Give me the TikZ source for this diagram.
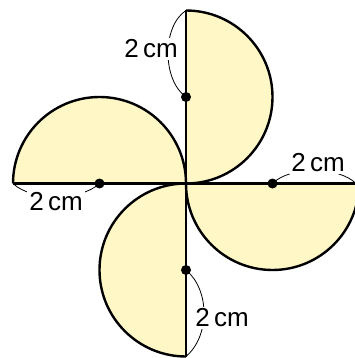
\documentclass[tikz,border=0pt]{standalone}
\usepackage{fontspec}
\setmainfont{Liberation Sans}
\definecolor{petal}{RGB}{255,248,198}
\tikzset{
  petalfill/.style={fill=petal},
  outline/.style={line width=2.4pt, line join=round},
  dimline/.style={line width=0.8pt},
  dot/.style={circle, fill=black, inner sep=0pt, minimum size=10pt},
  dimlabel/.style={fill=white, inner sep=2pt, font=\fontsize{26}{30}\selectfont}
}
\begin{document}
\begin{tikzpicture}[x=1pt,y=1pt]
\useasboundingbox (0,0) rectangle (355,-358);
\def\r{86.5}
\coordinate (C) at (186,-183.5);
\coordinate (T) at (186,-97);
\coordinate (L) at (99.5,-183.5);
\coordinate (R) at (272.5,-183.5);
\coordinate (B) at (186,-270);
\coordinate (Tend) at (186,-10.5);
\coordinate (Lend) at (13,-183.5);
\coordinate (Rend) at (359,-183.5);
\coordinate (Bend) at (186,-356.5);
% fills
\fill[petalfill] (Tend) arc[start angle=90,end angle=-90,radius=\r] -- cycle;
\fill[petalfill] (Lend) arc[start angle=180,end angle=0,radius=\r] -- cycle;
\fill[petalfill] (Rend) arc[start angle=0,end angle=-180,radius=\r] -- cycle;
\fill[petalfill] (Bend) arc[start angle=270,end angle=90,radius=\r] -- cycle;
% outlines
\draw[outline] (Tend) arc[start angle=90,end angle=-90,radius=\r];
\draw[outline] (Lend) arc[start angle=180,end angle=0,radius=\r];
\draw[outline] (Rend) arc[start angle=0,end angle=-180,radius=\r];
\draw[outline] (Bend) arc[start angle=270,end angle=90,radius=\r];
\draw[outline] (Tend) -- (Bend);
\draw[outline] (Lend) -- (Rend);
% dots
\node[dot] (dT) at (T) {};
\node[dot] (dL) at (L) {};
\node[dot] (dR) at (R) {};
\node[dot] (dB) at (B) {};
% dimension curves
\draw[dimline] (Tend) .. controls (162,-26) and (162,-80) .. (dT.center);
\draw[dimline] (Lend) .. controls (31,-201) and (81,-201) .. (dL.center);
\draw[dimline] (dR.center) .. controls (290,-166) and (338,-166) .. (356,-183.5);
\draw[dimline] (dB.center) .. controls (210,-290) and (210,-336) .. (Bend);
% labels
\node[dimlabel] (lT) at (151,-49) {2\,cm};
\node[dimlabel] (lL) at (56,-202) {2\,cm};
\node[dimlabel] (lR) at (318,-163) {2\,cm};
\node[dimlabel] (lB) at (222,-318) {2\,cm};
\end{tikzpicture}
\end{document}
